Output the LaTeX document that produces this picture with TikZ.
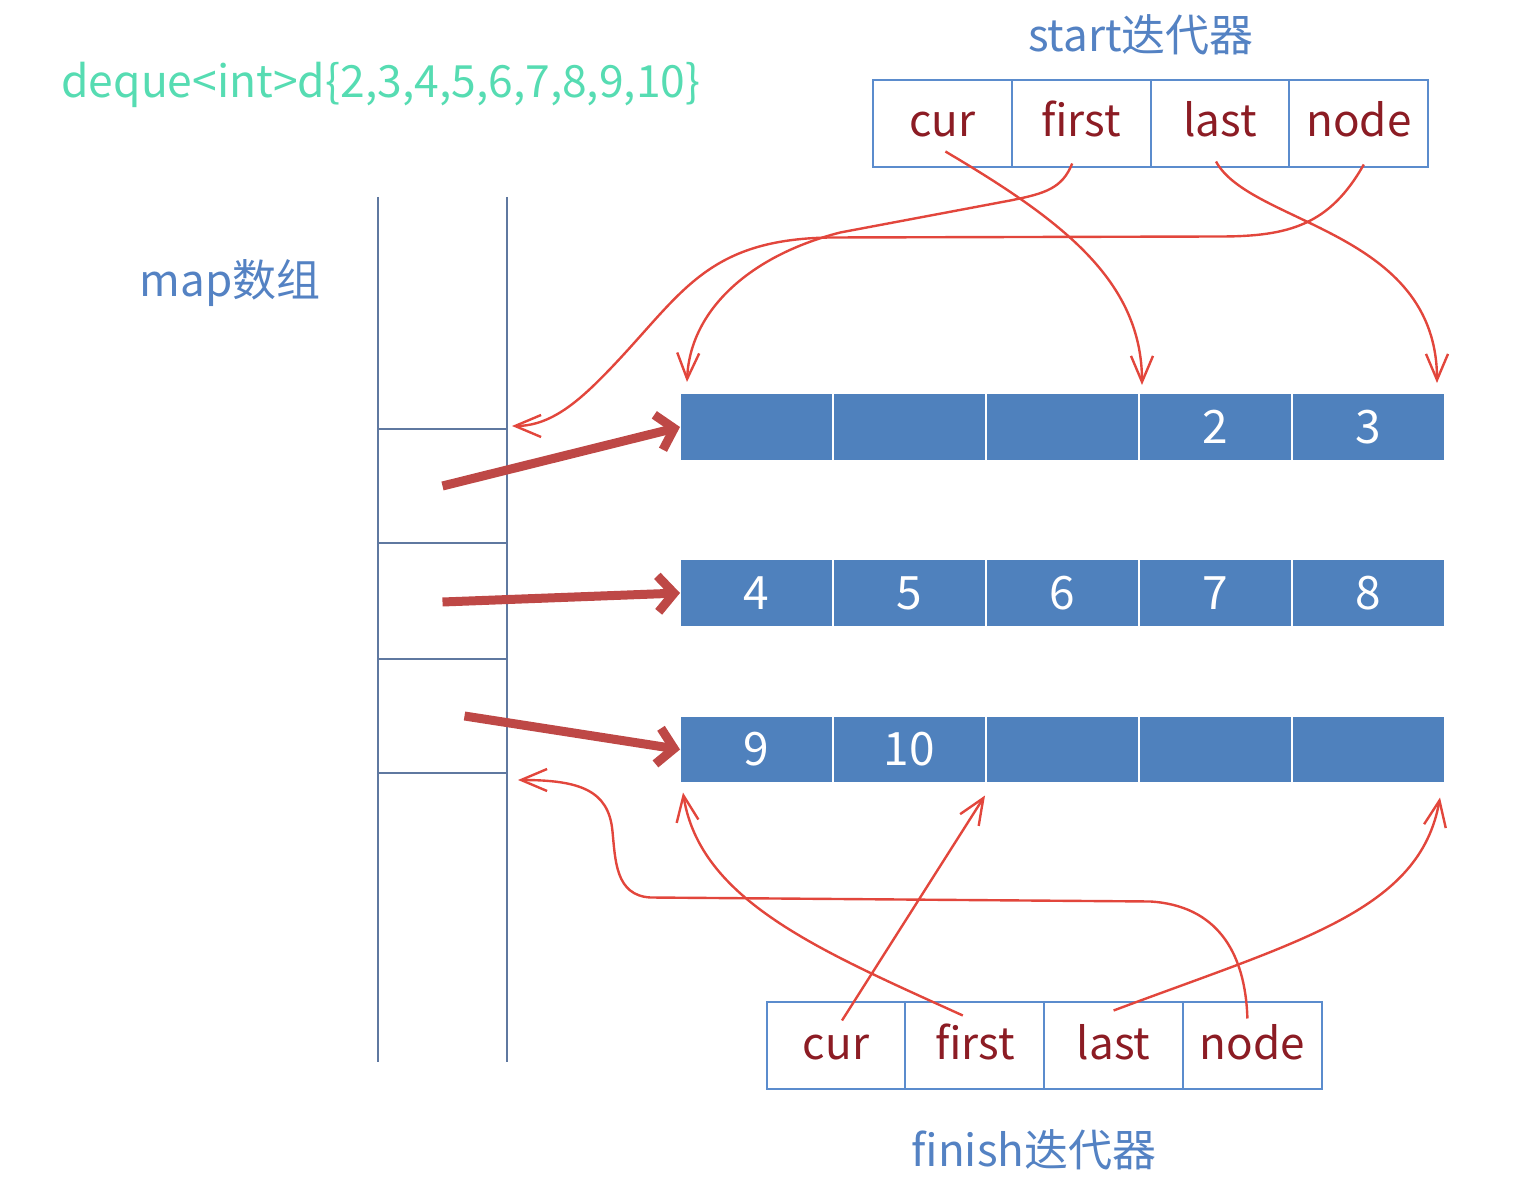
\documentclass[tikz,border=0pt]{standalone}
\usepackage{fontspec}
\setmainfont{Noto Sans CJK SC}
\usepackage{xcolor}
\usetikzlibrary{positioning,arrows.meta}
\definecolor{codegreen}{RGB}{86, 220, 178}
\definecolor{labelblue}{RGB}{84, 130, 195}
\definecolor{boxblue}{RGB}{91, 140, 205}
\definecolor{cellblue}{RGB}{79, 129, 189}
\definecolor{mapgray}{RGB}{95, 120, 160}
\definecolor{fieldred}{RGB}{140, 28, 36}
\definecolor{linkred}{RGB}{226, 70, 60}
\definecolor{thickred}{RGB}{190, 72, 70}

\begin{document}
\begin{tikzpicture}[x=0.5pt, y=-0.5pt,
        field/.style={draw=boxblue, line width=1pt, minimum width=69.4pt, minimum height=43.5pt,
                inner sep=0pt, outer sep=0pt, text=fieldred, text height=1.5em, text depth=0.15em,
                font=\fontsize{22}{26}\selectfont},
        cell/.style={fill=cellblue, draw=white, line width=1.2pt, minimum width=76.5pt,
                minimum height=34pt, inner sep=0pt, outer sep=0pt, text=white,
                font=\fontsize{23}{27}\selectfont},
        slot/.style={minimum width=64.5pt, minimum height=57pt, inner sep=0pt, outer sep=0pt},
        titletext/.style={font=\fontsize{22}{26}\selectfont, text=labelblue},
        mapline/.style={draw=mapgray, line width=1pt},
        thinlink/.style={draw=linkred, line width=1.2pt, -{Straight Barb[length=13pt, width=11pt]}},
        thicklink/.style={draw=thickred, line width=4.5pt, -{Straight Barb[length=8pt, width=18pt]}}]
        \useasboundingbox (0, 0) rectangle (1538, 1192);
        % Texts {{{
        \node[font=\fontsize{22.2}{26}\selectfont, text=codegreen] (code) at (381, 85) {deque<int>d\{2,3,4,5,6,7,8,9,10\}};
        \node[titletext] (maptitle) at (230, 283) {map数组};
        \node[titletext] (starttitle) at (1141, 35) {start迭代器};
        \node[titletext] (finishtitle) at (1034, 1150) {finish迭代器};
        % }}}
        % map array {{{
        \draw[mapline] (378, 197) -- (378, 1062) (507, 197) -- (507, 1062);
        \node[slot] (slot1) at (442.5, 486) {};
        \node[slot] (slot2) at (442.5, 602) {};
        \node[slot] (slot3) at (442.5, 716) {};
        \draw[mapline]
                (slot1.north west) -- (slot1.north east) %
                (slot1.south west) -- (slot1.south east) %
                (slot2.south west) -- (slot2.south east) %
                (slot3.south west) -- (slot3.south east) %
                ;
        % }}}
        % Buffers {{{
        \foreach \c/\t in {1/, 2/, 3/, 4/2, 5/3}
                \node[cell] (r1-\c) at ({603.5 + 153*\c}, 427) {\t};
        \foreach \c/\t in {1/4, 2/5, 3/6, 4/7, 5/8}
                \node[cell] (r2-\c) at ({603.5 + 153*\c}, 593) {\t};
        \foreach \c/\t in {1/9, 2/10, 3/, 4/, 5/}
                \node[cell] (r3-\c) at ({603.5 + 153*\c}, 749.5) {\t};
        \draw[thicklink] (slot1.center) -- (r1-1.west);
        \draw[thicklink] (slot2.center) -- (r2-1.west);
        \draw[thicklink] ([shift={(22, 0)}]slot3.center) -- (r3-1.west);
        % }}}
        % start iterator {{{
        \node[field] (s-cur) at (942.4, 123.5) {cur};
        \node[field, right=0pt of s-cur] (s-first) {first};
        \node[field, right=0pt of s-first] (s-last) {last};
        \node[field, right=0pt of s-last] (s-node) {node};
        \draw[thinlink] ([shift={(3, 28)}]s-cur.center) .. controls +(115, 68) and +(0, -105) .. ([shift={(3, -8)}]r1-4.north west);
        \draw[thinlink] ([shift={(-9, 40)}]s-first.center) .. controls +(-10, 25) and +(35, -7) .. ++(-62, 37)
                -- ++(-170, 32) .. controls +(-90, 23) and +(3, -72) .. ([shift={(7, -11)}]r1-1.north west);
        \draw[thinlink] ([shift={(-4, 38)}]s-last.center) .. controls +(34, 63) and +(0, -153) .. ([shift={(-8, -10)}]r1-5.north east);
        \draw[thinlink] ([shift={(5, 41)}]s-node.center) .. controls +(-34, 60) and +(70, 0) .. ++(-144, 72)
                -- ++(-390, 1) .. controls +(-130, 2) and +(80, -80) .. ++(-230, 142)
                .. controls +(-30, 30) and +(33, 0) .. ([shift={(5, -3)}]slot1.north east);
        % }}}
        % finish iterator {{{
        \node[field] (f-cur) at (836, 1045.5) {cur};
        \node[field, right=0pt of f-cur] (f-first) {first};
        \node[field, right=0pt of f-first] (f-last) {last};
        \node[field, right=0pt of f-last] (f-node) {node};
        \draw[thinlink] ([shift={(6, -25)}]f-cur.center) -- ([shift={(-1, 12)}]r3-3.south west);
        \draw[thinlink] ([shift={(-12, -30)}]f-first.center) .. controls +(-143, -65) and +(17, 108) .. ([shift={(3, 9)}]r3-1.south west);
        \draw[thinlink] ([shift={(0, -35)}]f-last.center) .. controls +(187, -70) and +(-20, 113) .. ([shift={(-5, 14)}]r3-5.south east);
        \draw[thinlink] ([shift={(-5, -27)}]f-node.center) .. controls +(-2, -68) and +(65, 4) .. ++(-97, -117)
                -- ++(-500, -4) .. controls +(-35, -2) and +(3, 30) .. ++(-38, -67)
                .. controls +(-4, -40) and +(62, 0) .. ([shift={(11, 7)}]slot3.south east);
        % }}}
\end{tikzpicture}
\end{document}
